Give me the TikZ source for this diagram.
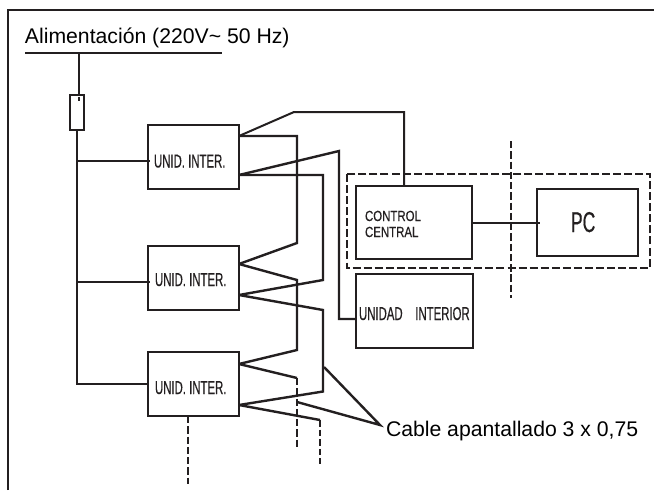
\documentclass[tikz,border=0pt]{standalone}
\usepackage{fontspec}
\setmainfont{Liberation Sans}
\newfontfamily\condfont[FakeStretch=0.61,FakeBold=0.4]{Liberation Sans}
\newfontfamily\midfont[FakeStretch=0.78,FakeBold=0.4]{Liberation Sans}
\definecolor{ink}{HTML}{231F20}
\tikzset{
  x=0.75pt,y=-0.75pt,
  wire/.style={draw=ink,line width=1.8pt,line join=miter},
  thinwire/.style={draw=ink,line width=1.5pt},
  dashwire/.style={draw=ink,line width=1.9pt,dash pattern=on 5.5pt off 2.2pt},
  boxn/.style={draw=ink,line width=2pt,fill=white,rectangle,inner sep=0pt,outer sep=0pt},
  lab/.style={anchor=base west,inner sep=0pt,outer sep=0pt,text=ink},
  small/.style={lab,font=\condfont\fontsize{14}{16}\selectfont},
  big/.style={lab,text=black,font=\fontsize{15.9}{18}\selectfont},
}
\newcommand{\bx}[5]{\node[boxn,minimum width=#4*0.75pt,minimum height=#5*0.75pt,anchor=north west] (#1) at (#2,#3) {};}
\begin{document}
\begin{tikzpicture}
\useasboundingbox[fill=white] (0,0) rectangle (654,490);
% frame
\coordinate (fbl) at (8,490); \coordinate (ftl) at (8,10); \coordinate (ftr) at (654,10);
\draw[draw=ink,line width=2.1pt] (fbl) -- (ftl) -- (ftr);
% coordinates
\coordinate (busl) at (25,53); \coordinate (busr) at (222,53); \coordinate (bust) at (79,53);
\coordinate (a1) at (239,136); \coordinate (a2) at (239,175);
\coordinate (b1) at (239,264); \coordinate (b2) at (239,295);
\coordinate (c1) at (239,364); \coordinate (c2) at (239,405);
\coordinate (trunkt) at (77,130); \coordinate (trunkb) at (77,384);
\coordinate (t1) at (77,161); \coordinate (t2) at (77,282);
% boxes
\bx{ui1}{148}{125}{91}{64}
\bx{ui2}{148}{246}{91}{64}
\bx{ui3}{148}{352}{91}{64}
\bx{cc}{356}{186}{116}{73}
\bx{pc}{537}{189}{101}{67}
\bx{ui}{356}{274}{117}{74}
\bx{fuse}{70}{95}{14}{35}
% power wiring
\draw[wire] (busl) -- (busr);
\draw[wire] (bust) -- (79,95);
\draw[wire] (trunkt) -- (trunkb) -- (ui3.west |- trunkb);
\draw[wire] (t1) -- (150,161);
\draw[wire] (t2) -- (150,282);
\fill[ink] (78.3,97) rectangle (80,101);
% bus cable
\draw[thinwire] (a1) -- (294,112) -- (404,112) -- (404,186);
\draw[wire] (a1) -- (297,136) -- (297,243) -- (b1);
\draw[wire] (a2) -- (339,151) -- (339,319) -- (356,319);
\draw[wire] (a2) -- (323,175) -- (323,280) -- (b2);
\draw[wire] (b1) -- (297,280) -- (297,350) -- (c1);
\draw[wire] (b2) -- (323,310) -- (323,391.5) -- (c2);
\draw[wire] (c1) -- (297,378);
\draw[wire] (c2) -- (320,420);
\draw[dashwire] (297,378) -- (297,449);
\draw[draw=ink,line width=1.6pt,dash pattern=on 5pt off 2.2pt] (320,420) -- (320,464);
\draw[dashwire] (188,416) -- (188,484);
% central
\draw[dashwire] (511,141) -- (511,298);
\draw[draw=ink,line width=2.2pt,dash pattern=on 6pt off 2.3pt] (347,174) rectangle (650,268);
\draw[wire] (472,223) -- (540,223);
% callouts
\coordinate (cl) at (380,425);
\draw[wire] (324,367) -- (cl) -- (297,402);
% texts
\node[big] (ta) at (25,43) {Alimentación (220V\char"7E\ 50 Hz)};
\node[big] (tc) at (386,436) {Cable apantallado 3 x 0,75};
\node[small] (u1) at (154,167.5) {UNID. INTER.};
\node[small] (u2) at (155,286) {UNID. INTER.};
\node[small] (u3) at (155,394) {UNID. INTER.};
\node[lab,font=\midfont\fontsize{11}{12}\selectfont] (c1t) at (365,221) {CONTROL};
\node[lab,font=\midfont\fontsize{11}{12}\selectfont] (c2t) at (365,237) {CENTRAL};
\node[small] (ut) at (359,320) {UNIDAD\hspace{9.5pt}INTERIOR};
\node[lab,font=\condfont\fontsize{21.5}{23}\selectfont] (pct) at (571,232) {PC};
\end{tikzpicture}
\end{document}
